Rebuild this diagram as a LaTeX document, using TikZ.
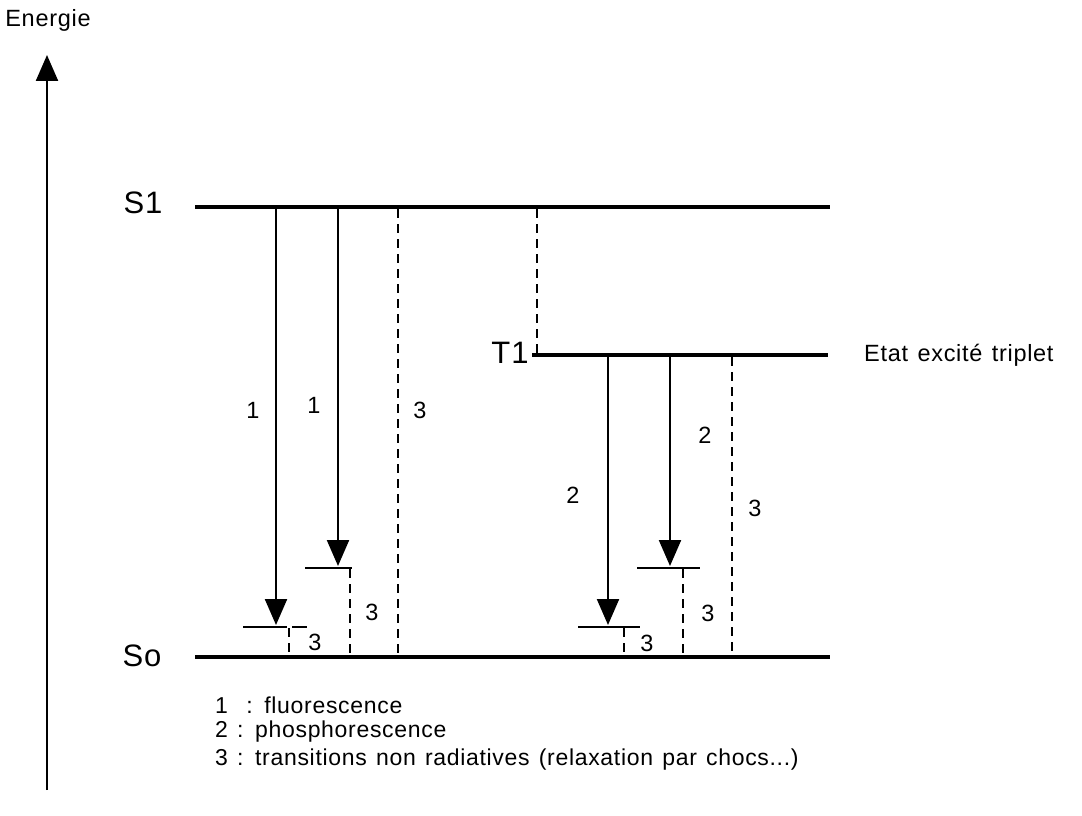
\documentclass[tikz,border=0pt]{standalone}
\usepackage{fontspec}
\setmainfont{Liberation Sans}[LetterSpace=3,WordSpace=1.3]
\usetikzlibrary{arrows.meta}
\begin{document}
\begin{tikzpicture}[x=1pt,y=-1pt,
  level/.style={line width=4.5pt},
  rad/.style={line width=2.2pt,-{Triangle[width=22pt,length=26pt]}},
  nonrad/.style={line width=2.4pt,dash pattern=on 9pt off 6pt},
  sublevel/.style={line width=2.2pt},
  lbl/.style={font=\fontsize{23.5}{27}\selectfont, inner sep=0pt},
  big/.style={font=\fontsize{31}{35}\selectfont, inner sep=0pt},
  leg/.style={font=\fontsize{23}{27}\selectfont, inner sep=0pt, anchor=west}]
\useasboundingbox (0,0) rectangle (1082,816);
% axis
\coordinate (axb) at (47,790);
\coordinate (axt) at (47,55);
\draw[line width=2.2pt,-{Triangle[width=22pt,length=26pt]}] (axb) -- (axt);
\node[lbl] (energie) at (48,20) {Energie};
% levels
\coordinate (s1l) at (195,207); \coordinate (s1r) at (830,207);
\coordinate (sol) at (195,657); \coordinate (sor) at (830,657);
\coordinate (t1l) at (532,355); \coordinate (t1r) at (828,355);
\draw[level] (s1l) -- (s1r);
\draw[level] (sol) -- (sor);
\draw[level] (t1l) -- (t1r);
\node[big] (S1) at (143,203) {S1};
\node[big] (So) at (142,656) {So};
\node[big] (T1) at (510,353) {T1};
\node[lbl,anchor=west] (etat) at (864,355) {Etat excité triplet};
% S1 -> T1 intersystem crossing
\coordinate (isa) at (537,209); \coordinate (isb) at (537,353);
\draw[nonrad] (isa) -- (isb);
% fluorescence arrows
\coordinate (f1s) at (276,209); \coordinate (f1e) at (276,625);
\coordinate (f2s) at (338,209); \coordinate (f2e) at (338,566);
\draw[rad] (f1s) -- (f1e);
\draw[rad] (f2s) -- (f2e);
\node[lbl] (n1a) at (253,410) {1};
\node[lbl] (n1b) at (314,405) {1};
% sublevels left
\coordinate (sl1a) at (243,627); \coordinate (sl1b) at (287,627);
\coordinate (sl1c) at (292,627); \coordinate (sl1d) at (307,627);
\draw[sublevel] (sl1a) -- (sl1b);
\draw[sublevel] (sl1c) -- (sl1d);
\coordinate (sl2a) at (305,568); \coordinate (sl2b) at (352,568);
\draw[sublevel] (sl2a) -- (sl2b);
% non radiative left
\coordinate (d1a) at (289,628); \coordinate (d1b) at (289,655);
\draw[nonrad] (d1a) -- (d1b);
\node[lbl] (n3a) at (315,642) {3};
\coordinate (d2a) at (350,569); \coordinate (d2b) at (350,655);
\draw[nonrad] (d2a) -- (d2b);
\node[lbl] (n3b) at (372,612) {3};
\coordinate (d3a) at (398,209); \coordinate (d3b) at (398,655);
\draw[nonrad] (d3a) -- (d3b);
\node[lbl] (n3c) at (420,410) {3};
% phosphorescence arrows
\coordinate (p1s) at (608,357); \coordinate (p1e) at (608,625);
\coordinate (p2s) at (670,357); \coordinate (p2e) at (670,566);
\draw[rad] (p1s) -- (p1e);
\draw[rad] (p2s) -- (p2e);
\node[lbl] (n2a) at (573,495) {2};
\node[lbl] (n2b) at (705,435) {2};
% sublevels right
\coordinate (sr1a) at (578,627); \coordinate (sr1b) at (640,627);
\draw[sublevel] (sr1a) -- (sr1b);
\coordinate (sr2a) at (637,568); \coordinate (sr2b) at (700,568);
\draw[sublevel] (sr2a) -- (sr2b);
% non radiative right
\coordinate (e1a) at (624,628); \coordinate (e1b) at (624,655);
\draw[nonrad] (e1a) -- (e1b);
\node[lbl] (n3d) at (647,643) {3};
\coordinate (e2a) at (683,569); \coordinate (e2b) at (683,655);
\draw[nonrad] (e2a) -- (e2b);
\node[lbl] (n3e) at (708,613) {3};
\coordinate (e3a) at (732,357); \coordinate (e3b) at (732,655);
\draw[nonrad] (e3a) -- (e3b);
\node[lbl] (n3f) at (755,508) {3};
% legend
\node[leg] (leg1) at (215,705) {1\ \ : fluorescence};
\node[leg] (leg2) at (215,732) {2 : phosphorescence};
\node[leg] (leg3) at (215,760) {3 : transitions non radiatives (relaxation par chocs...)};
\end{tikzpicture}
\end{document}
